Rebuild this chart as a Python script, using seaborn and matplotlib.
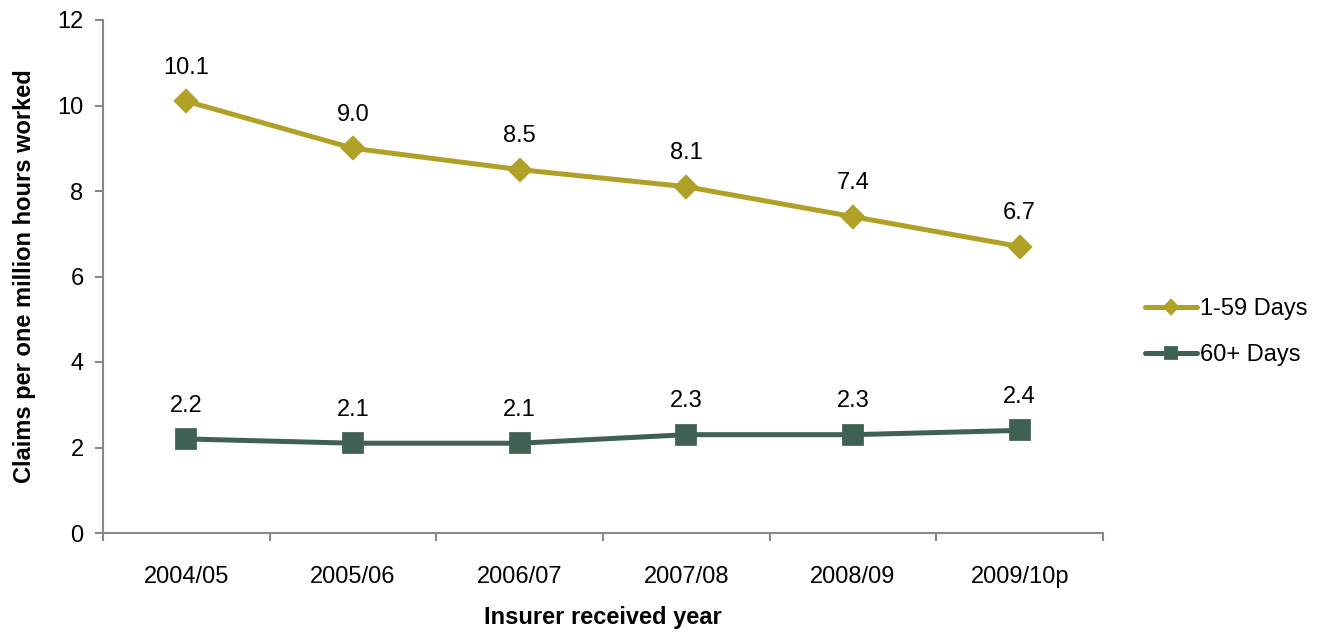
import matplotlib
matplotlib.use("Agg")
import matplotlib.pyplot as plt
import seaborn as sns
import pandas as pd

years = ["2004/05", "2005/06", "2006/07", "2007/08", "2008/09", "2009/10p"]
short_term = [10.1, 9.0, 8.5, 8.1, 7.4, 6.7]
long_term = [2.2, 2.1, 2.1, 2.3, 2.3, 2.4]
series_names = ["1-59 Days", "60+ Days"]
colors = {"1-59 Days": "#B0A126", "60+ Days": "#3F6152"}

df = pd.DataFrame({
    "year": years * 2,
    "value": short_term + long_term,
    "series": [series_names[0]] * len(years) + [series_names[1]] * len(years),
})

sns.set_theme(style="white", rc={"text.color": "black", "axes.labelcolor": "black",
                                 "xtick.color": "black", "ytick.color": "black"})
plt.rcParams["font.family"] = ["Liberation Sans", "DejaVu Sans"]

fig = plt.figure(figsize=(13.2, 6.34), dpi=100)
ax = fig.add_axes([103 / 1320, 1 - 533 / 634, 1000 / 1320, 513 / 634])

for name, marker, ms in [(series_names[0], "D", 10.5), (series_names[1], "s", 13)]:
    sub = df[df["series"] == name]
    sns.pointplot(data=sub, x="year", y="value", order=years, color=colors[name],
                  markers=marker, markersize=ms, linewidth=3.6, errorbar=None,
                  label=name, ax=ax)
    for i, v in enumerate(sub["value"]):
        ax.annotate(f"{v:.1f}", (i, v), xytext=(0, 24), textcoords="offset points",
                    ha="center", va="center", fontsize=17, color="black")

if ax.get_legend() is not None:
    ax.get_legend().remove()

ax.set_xlim(-0.5, len(years) - 0.5)
ax.set_ylim(0, 12)
ax.set_yticks(range(0, 13, 2))
ax.set_xticks(range(len(years)))
ax.set_xticklabels(years)
ax.set_xticks([i + 0.5 for i in range(-1, len(years))], minor=True)
ax.tick_params(axis="x", which="major", length=0, pad=24, labelsize=17, labelcolor="black")
ax.tick_params(axis="x", which="minor", length=6, width=1.5, color="#888888", direction="out", bottom=True)
ax.tick_params(axis="y", length=6, width=1.5, color="#888888", direction="out", left=True,
               labelsize=17, pad=8, labelcolor="black")

for side in ["top", "right"]:
    ax.spines[side].set_visible(False)
for side in ["left", "bottom"]:
    ax.spines[side].set_color("#888888")
    ax.spines[side].set_linewidth(1.5)

ax.grid(False)
ax.set_xlabel("Insurer received year", fontsize=17, fontweight="bold", labelpad=13)
ax.set_ylabel("Claims per one million hours worked", fontsize=17, fontweight="bold", labelpad=15)

handles, labels = ax.get_legend_handles_labels()
leg = fig.legend(handles, labels, loc="center left",
                 bbox_to_anchor=(1124 / 1320, 1 - 332 / 634),
                 frameon=False, fontsize=17, markerscale=0.6, handlelength=2.2,
                 handletextpad=0.1, labelspacing=1.0)

fig.savefig("out.png", dpi=100)
